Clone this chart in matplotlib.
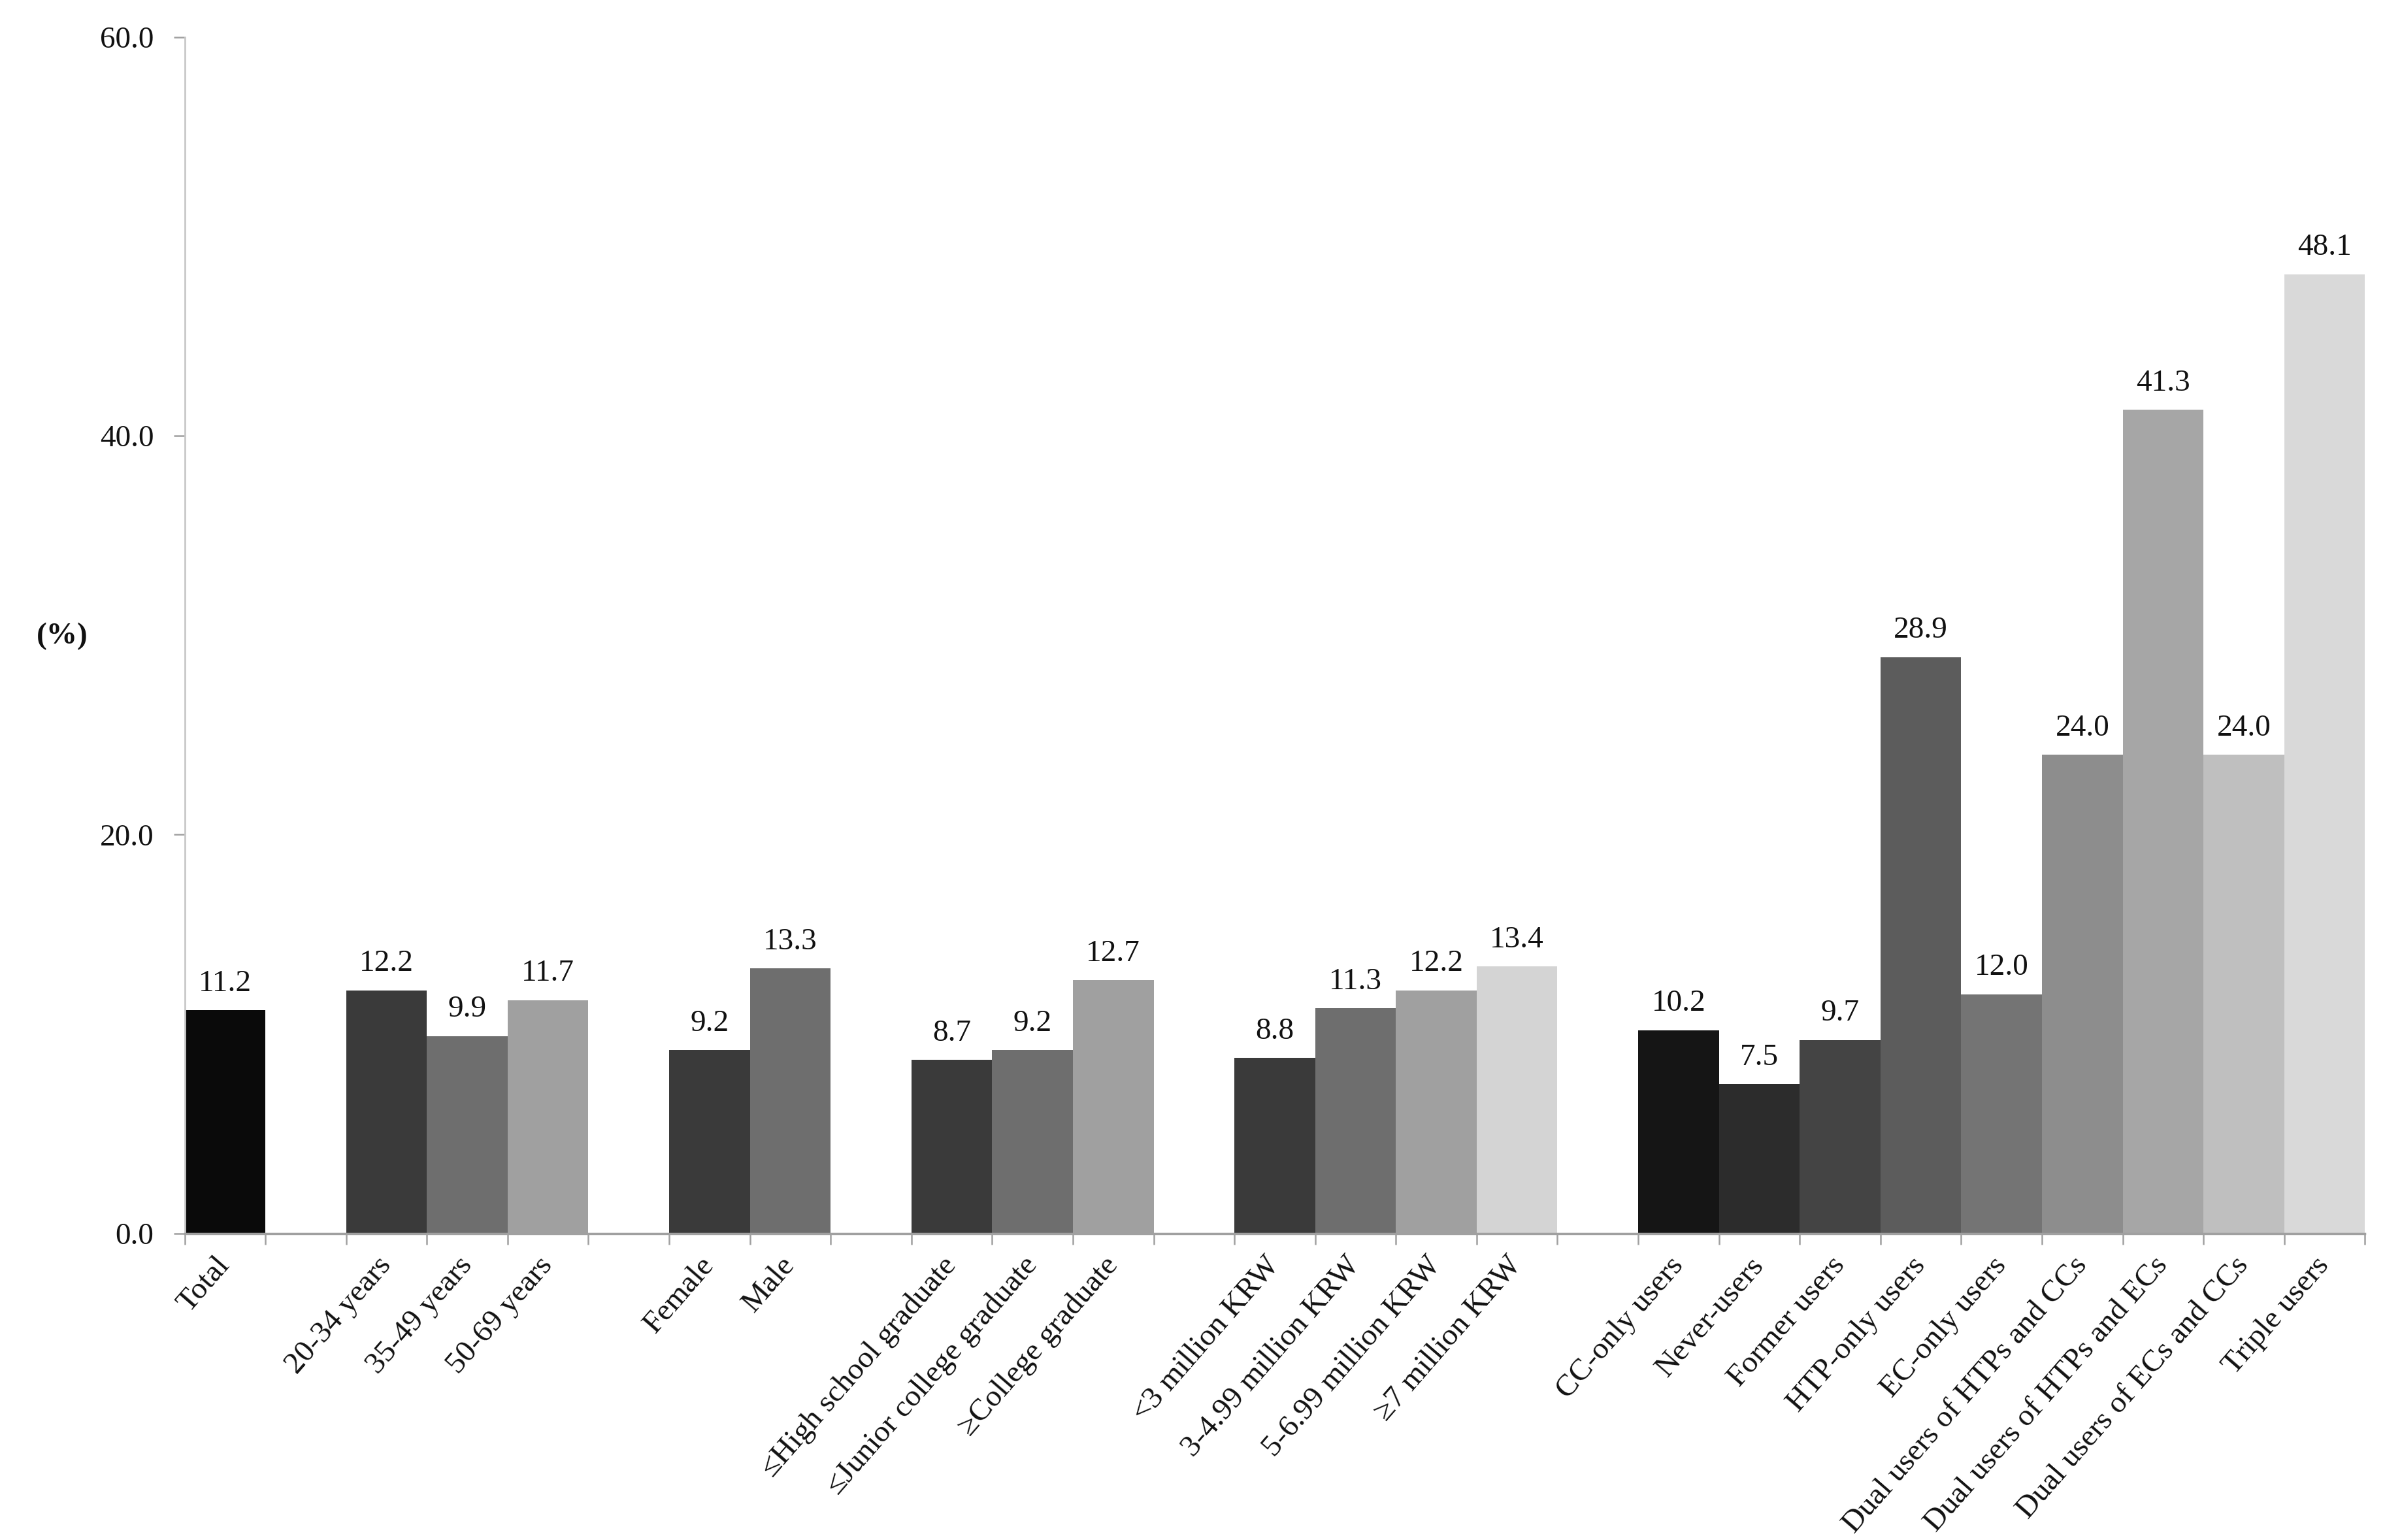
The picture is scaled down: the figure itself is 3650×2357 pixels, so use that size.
import matplotlib
matplotlib.use("Agg")
import matplotlib.pyplot as plt

# ---- data ----
total_labels = ["Total"]
total_values = [11.2]
age_labels = ["20-34 years", "35-49 years", "50-69 years"]
age_values = [12.2, 9.9, 11.7]
sex_labels = ["Female", "Male"]
sex_values = [9.2, 13.3]
edu_labels = ["\u2264High school graduate", "\u2264Junior college graduate", "\u2265College graduate"]
edu_values = [8.7, 9.2, 12.7]
income_labels = ["<3 million KRW", "3-4.99 million KRW", "5-6.99 million KRW", "\u22657 million KRW"]
income_values = [8.8, 11.3, 12.2, 13.4]
tob_labels = ["CC-only users", "Never-users", "Former users", "HTP-only users", "EC-only users",
              "Dual users of HTPs and CCs", "Dual users of HTPs and ECs",
              "Dual users of ECs and CCs", "Triple users"]
tob_values = [10.2, 7.5, 9.7, 28.9, 12.0, 24.0, 41.3, 24.0, 48.1]
y_ticks = [0, 20, 40, 60]

# ---- styles ----
shades3 = ["#3a3a3a", "#6e6e6e", "#a0a0a0"]
shades4 = ["#3a3a3a", "#6e6e6e", "#a0a0a0", "#d4d4d4"]
group_colors = [
    ["#0a0a0a"],
    shades3,
    shades3[:2],
    shades3,
    shades4,
    ["#151515", "#2c2c2c", "#444444", "#5c5c5c", "#747474", "#8d8d8d", "#a6a6a6", "#bfbfbf", "#d9d9d9"],
]
groups = [
    (total_labels, total_values),
    (age_labels, age_values),
    (sex_labels, sex_values),
    (edu_labels, edu_values),
    (income_labels, income_values),
    (tob_labels, tob_values),
]

plt.rcParams['font.family'] = ['Liberation Serif', 'DejaVu Serif']
FS = 34

fig = plt.figure(figsize=(36.5, 23.57), dpi=100)
ax = fig.add_axes([0.0774, 0.199, 0.9916 - 0.0774, 0.976 - 0.199])

positions, labels, values, colors = [], [], [], []
pos = 0
for gi, (labs, vals) in enumerate(groups):
    if gi > 0:
        pos += 1  # blank slot between groups
    for lab, val, col in zip(labs, vals, group_colors[gi]):
        positions.append(pos)
        labels.append(lab)
        values.append(val)
        colors.append(col)
        pos += 1
n_slots = pos

bars = ax.bar(positions, values, width=1.0, color=colors, edgecolor='none')
for p, v in zip(positions, values):
    ax.annotate(f"{v:.1f}", (p, v), xytext=(0, 14), textcoords='offset points',
                ha='center', va='bottom', fontsize=FS, color='#111111')

ax.set_xlim(-0.5, n_slots - 0.5)
ax.set_ylim(0, 60)
ax.set_yticks(y_ticks)
ax.set_yticklabels([f"{t:.1f}" for t in y_ticks], fontsize=FS, color='#111111')

ax.set_xticks(positions)
ax.set_xticklabels(labels, rotation=49, ha='right', va='center', rotation_mode='anchor',
                   fontsize=FS, color='#111111')
ax.tick_params(axis='x', which='major', length=0, pad=30)
ax.set_xticks([b - 0.5 for b in range(n_slots + 1)], minor=True)
ax.tick_params(axis='x', which='minor', length=12, width=1.8, color='#a0a0a0', direction='out')
ax.tick_params(axis='y', length=12, width=1.8, color='#a0a0a0', pad=22)

for s in ['top', 'right']:
    ax.spines[s].set_visible(False)
ax.spines['left'].set_color('#c8c8c8')
ax.spines['left'].set_linewidth(2)
ax.spines['bottom'].set_color('#a0a0a0')
ax.spines['bottom'].set_linewidth(2.5)

fig.text(0.026, 0.587, "(%)", fontsize=FS, fontweight='bold', ha='center', va='center', color='#111111')

fig.savefig("out.png", dpi=100, facecolor='white')
